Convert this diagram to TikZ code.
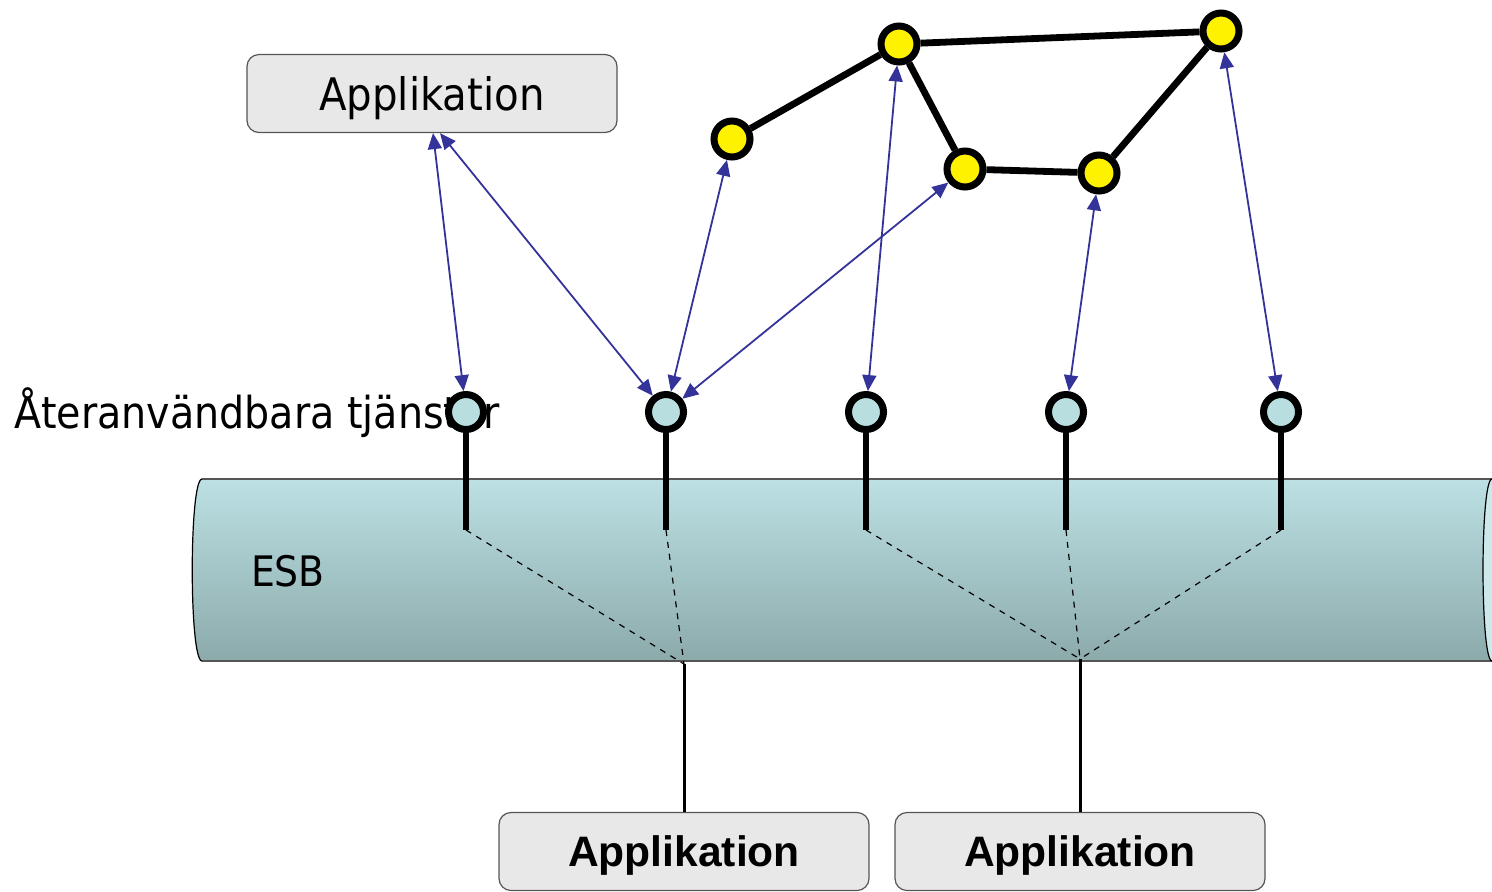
\documentclass[tikz,border=0pt]{standalone}
\usepackage{fontspec}
\setmainfont{DejaVu Sans Condensed}
\newfontfamily\appfont{Liberation Sans}
\usetikzlibrary{arrows.meta}
\definecolor{esbtop}{HTML}{BCE0E4}
\definecolor{esbbottom}{HTML}{8CAAAA}
\definecolor{esbend}{HTML}{CCE8EA}
\definecolor{svcblue}{HTML}{B8DEE0}
\definecolor{boxgray}{HTML}{E8E8E8}
\definecolor{boxline}{HTML}{555555}
\definecolor{linkblue}{HTML}{333399}
\tikzset{
  svc/.style={circle,draw=black,line width=3.5pt,fill=svcblue,minimum size=17.5pt,inner sep=0pt},
  hub/.style={svc,fill=yellow,minimum size=18pt},
  appbox/.style={draw=boxline,line width=0.6pt,fill=boxgray,rounded corners=6pt,minimum width=185pt,minimum height=39pt,text depth=0pt},
  link/.style={draw=linkblue,line width=0.9pt,{Triangle[length=8pt,width=7pt]}-{Triangle[length=8pt,width=7pt]}},
  stem/.style={line width=2.8pt},
  wire/.style={line width=1.5pt},
}

\begin{document}
\begin{tikzpicture}[x=0.5pt,y=-0.5pt]
  \useasboundingbox (0,0) rectangle (1492,891);
  % the bus
  \shade[top color=esbtop,bottom color=esbbottom]
    (202,479) -- (1492,479) -- (1492,661) -- (202,661) .. controls (189,661) and (189,479) .. (202,479);
  \fill[esbend] (1492,479) .. controls (1480,479) and (1480,661) .. (1492,661) -- cycle;
  \draw[boxline,line width=1pt] (202,479) -- (1492,479) (202,661) -- (1492,661);
  \draw[line width=0.6pt] (202,661) .. controls (189,661) and (189,479) .. (202,479);
  \draw[line width=0.6pt] (1492,479) .. controls (1480,479) and (1480,661) .. (1492,661);
  \node[font=\fontsize{21pt}{25pt}\selectfont] (esb) at (288,571) {ESB};

  \node[anchor=base west,inner sep=0pt,font=\fontsize{22pt}{26pt}\selectfont] (label) at (14,428) {Återanvändbara tjänster};

  % applications
  \node[appbox,font=\fontsize{22.4pt}{26pt}\selectfont] (app) at (432,93.5) {Applikation};
  \node[appbox,font=\appfont\bfseries\fontsize{21.3pt}{25pt}\selectfont] (appa) at (684,851.5) {Applikation};
  \node[appbox,font=\appfont\bfseries\fontsize{21.3pt}{25pt}\selectfont] (appb) at (1080,851.5) {Applikation};

  % services on the bus
  \foreach \n/\x in {1/466,2/666,3/866,4/1066,5/1281} {
    \coordinate (b\n) at (\x,530);
    \node[svc] (s\n) at (\x,412) {};
    \draw[stem] (s\n) -- (b\n);
  }
  \coordinate (m1) at (684,664);
  \coordinate (m2) at (1080,659);
  \draw[dashed,line width=0.6pt] (b1) -- (m1) (b2) -- (m1)
    (b3) -- (m2) (b4) -- (m2) (b5) -- (m2);
  \draw[wire] (m1) -- (appa);
  \draw[wire] (m2) -- (appb);

  % the process
  \node[hub] (h1) at (732,139) {};
  \node[hub] (h2) at (899,44) {};
  \node[hub] (h3) at (1221,31) {};
  \node[hub] (h4) at (965,169) {};
  \node[hub] (h5) at (1099,173) {};
  \draw[line width=3.4pt] (h1) -- (h2) -- (h3) -- (h5) -- (h4) -- (h2);

  \draw[link] ([xshift=0.5pt]app.south) -- (s1);
  \draw[link] ([xshift=4pt]app.south) -- (s2);
  \draw[link] (s2) -- (h1);
  \draw[link] (s2) -- (h4);
  \draw[link] (s3) -- (h2);
  \draw[link] (s4) -- (h5);
  \draw[link] (s5) -- (h3);
\end{tikzpicture}
\end{document}
